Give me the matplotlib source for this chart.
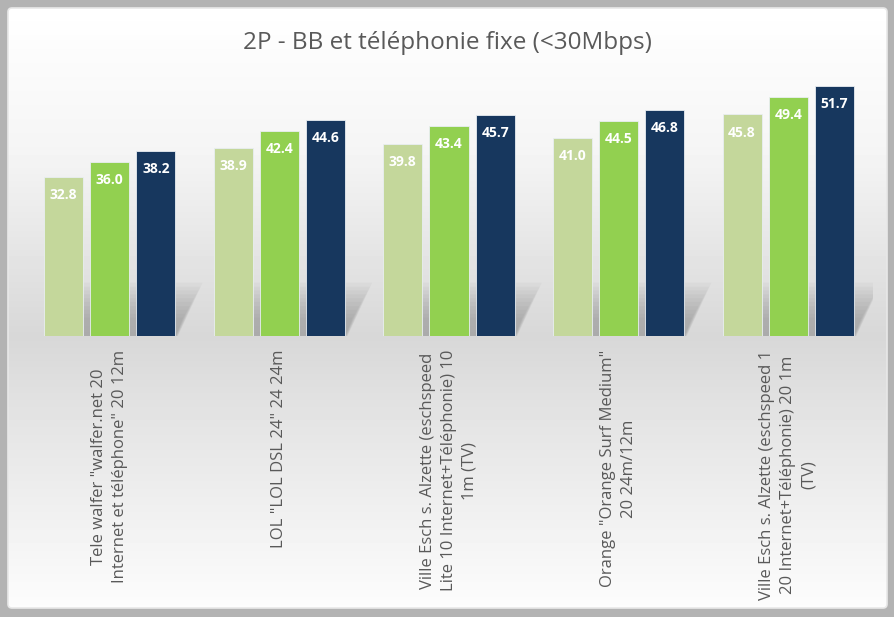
import matplotlib

matplotlib.use("Agg")
import matplotlib.pyplot as plt
import numpy as np
from matplotlib.patches import FancyBboxPatch, Polygon

plt.rcParams["font.family"] = ["Open Sans", "DejaVu Sans"]

# data
categories = [
    'Tele walfer "walfer.net 20\nInternet et téléphone" 20 12m',
    'LOL "LOL DSL 24" 24 24m',
    "Ville Esch s. Alzette (eschspeed\nLite 10 Internet+Téléphonie) 10\n1m (TV)",
    'Orange "Orange Surf Medium"\n20 24m/12m',
    "Ville Esch s. Alzette (eschspeed 1\n20 Internet+Téléphonie) 20 1m\n(TV)",
]
series_1 = [32.8, 38.9, 39.8, 41.0, 45.8]
series_2 = [36.0, 42.4, 43.4, 44.5, 49.4]
series_3 = [38.2, 44.6, 45.7, 46.8, 51.7]
series_colors = ["#c4d79b", "#92d050", "#17375e"]
title = "2P - BB et téléphonie fixe (<30Mbps)"

W, H = 895, 617
fig = plt.figure(figsize=(W / 100, H / 100), dpi=100)
fig.patch.set_facecolor("#b3b3b3")

# background panel with vertical gradient
bg = fig.add_axes([0, 0, 1, 1], zorder=-2)
bg.set_xlim(0, W)
bg.set_ylim(H, 0)
bg.axis("off")
rows = np.arange(H)
stops_y = [7, 150, 336, 420, 608]
stops_v = [1.0, 0.96, 0.845, 0.895, 0.99]
shade = np.interp(rows, stops_y, stops_v)
grad = np.repeat(shade[:, None], 2, axis=1)
panel = FancyBboxPatch((8, 8), W - 16, H - 17, boxstyle="round,pad=0,rounding_size=4",
                       facecolor="none", edgecolor="#e8e8e8", linewidth=1.2)
bg.add_patch(panel)
img = bg.imshow(grad, cmap="gray", vmin=0, vmax=1, extent=(0, W, H, 0), aspect="auto")
img.set_clip_path(panel)

ax = fig.add_axes([25 / W, (H - 336) / H, 848 / W, (336 - 45.8) / H])
ax.set_facecolor("none")
for s in ax.spines.values():
    s.set_visible(False)

x = np.arange(len(categories))
bw = 0.23
step = 0.272
all_series = [series_1, series_2, series_3]

# soft perspective shadows behind each group
for xi in x:
    x0 = xi - step - bw / 2
    x1 = xi + step + bw / 2
    for k in range(10):
        h = 11 - k * 0.8
        dx = 0.13 * h / 11
        spread = 0.03 * (9 - k) / 9
        poly = Polygon([(x0 + 0.02, 0), (x1 + spread * 0.5, 0), (x1 + dx + spread, h),
                        (x0 + dx + 0.04, h)],
                       closed=True, facecolor="#7a7a7a", edgecolor="none", alpha=0.055, zorder=1)
        ax.add_patch(poly)

for i, (vals, col) in enumerate(zip(all_series, series_colors)):
    pos = x + (i - 1) * step
    bars = ax.bar(pos, vals, width=bw, color=col, edgecolor="#e9eef2", linewidth=0.6, zorder=3)
    for b, v in zip(bars, vals):
        ax.annotate(f"{v:.1f}", (b.get_x() + b.get_width() / 2, v), xytext=(0, -8),
                    textcoords="offset points", ha="center", va="top", color="white",
                    fontsize=10, fontweight="bold", zorder=4)

ax.set_xlim(-0.5, len(categories) - 0.5)
ax.set_ylim(0, 60)
ax.set_yticks([])
ax.set_xticks(x)
ax.set_xticklabels(categories, rotation=90, ha="center", va="top", multialignment="center",
                   fontsize=12, color="#595959", linespacing=1.4)
ax.tick_params(axis="x", length=0, pad=10)

fig.text(0.5, (H - 43) / H, title, ha="center", va="center", fontsize=17.5, color="#595959")

fig.savefig("out.png", dpi=100, facecolor=fig.get_facecolor())
